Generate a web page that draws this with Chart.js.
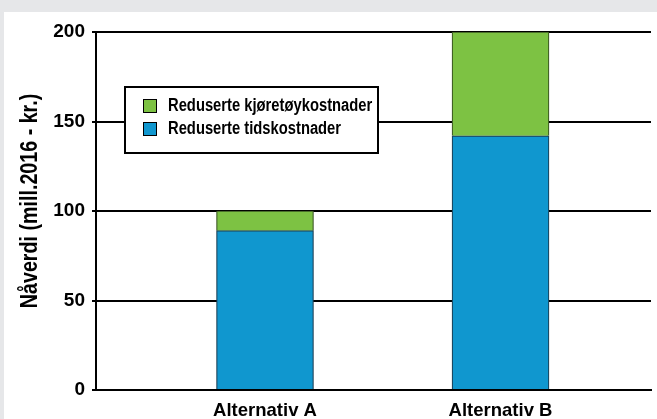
<!DOCTYPE html>
<html>
<head>
<meta charset="utf-8">
<script src="https://cdn.jsdelivr.net/npm/chart.js@4/dist/chart.umd.min.js"></script>
<style>
  html, body { margin: 0; padding: 0; background: #e6e7e9; width: 657px; height: 419px; overflow: hidden; }
  #panel { position: absolute; left: 4px; top: 12px; width: 653px; height: 407px; background: #ffffff; }
  canvas { display: block; }
</style>
</head>
<body>
<div id="panel"><canvas id="c" width="653" height="407"></canvas></div>
<script>
// ---- data ----
const categories = ['Alternativ A', 'Alternativ B'];
const categoryPositions = [1, 2];
const tidskostnader = [89, 142];
const kjoretoykostnader = [11, 58];
const yTicks = [0, 50, 100, 150, 200];
const seriesLabels = ['Reduserte tidskostnader', 'Reduserte kjøretøykostnader'];
const yTitle = 'Nåverdi (mill.2016 - kr.)';

const FONT = '"Liberation Sans", Arial, sans-serif';
const CONDENSE = 0.82;

const BLUE = '#1097cf';
const GREEN = '#7dc243';

const toPoints = (vals) => categoryPositions.map((p, i) => ({ x: p, y: vals[i] }));

const legendPlugin = {
  id: 'boxLegend',
  afterDraw(chart) {
    const ctx = chart.ctx;
    const bx = 121, by = 75, bw = 253, bh = 66;
    ctx.save();
    ctx.fillStyle = '#ffffff';
    ctx.fillRect(bx, by, bw, bh);
    ctx.lineWidth = 2;
    ctx.strokeStyle = '#000000';
    ctx.strokeRect(bx, by, bw, bh);
    const items = chart.data.datasets.slice().reverse();
    items.forEach((ds, i) => {
      const sy = by + 12 + i * 23;
      ctx.fillStyle = ds.backgroundColor;
      ctx.fillRect(bx + 18, sy, 14, 14);
      ctx.lineWidth = 1;
      ctx.strokeStyle = '#000000';
      ctx.strokeRect(bx + 18.5, sy + 0.5, 13, 13);
      ctx.save();
      ctx.translate(bx + 43, sy + 7.5);
      ctx.scale(CONDENSE, 1);
      ctx.font = 'bold 18px ' + FONT;
      ctx.textBaseline = 'middle';
      ctx.textAlign = 'left';
      ctx.fillStyle = '#000000';
      ctx.fillText(ds.label, 0, 0);
      ctx.restore();
    });
    ctx.restore();
  }
};

const yTitlePlugin = {
  id: 'yTitle',
  afterDraw(chart) {
    const ctx = chart.ctx;
    ctx.save();
    ctx.translate(33, 189);
    ctx.rotate(-Math.PI / 2);
    ctx.scale(CONDENSE, 1);
    ctx.font = 'bold 24px ' + FONT;
    ctx.fillStyle = '#000000';
    ctx.textAlign = 'center';
    ctx.textBaseline = 'alphabetic';
    ctx.fillText(yTitle, 0, 0);
    ctx.restore();
  }
};

new Chart(document.getElementById('c'), {
  type: 'bar',
  data: {
    datasets: [
      {
        label: seriesLabels[0],
        data: toPoints(tidskostnader),
        backgroundColor: BLUE,
        borderColor: '#1b3f55',
        borderWidth: 1.2,
        barThickness: 97
      },
      {
        label: seriesLabels[1],
        data: toPoints(kjoretoykostnader),
        backgroundColor: GREEN,
        borderColor: '#3a5522',
        borderWidth: 1.2,
        barThickness: 97
      }
    ]
  },
  options: {
    responsive: false,
    animation: false,
    devicePixelRatio: 1,
    layout: { padding: { top: 20, right: 6, left: 0, bottom: 0 } },
    plugins: { legend: { display: false }, tooltip: { enabled: false } },
    scales: {
      x: {
        type: 'linear',
        stacked: true,
        offset: false,
        min: 0.2824,
        max: 2.639,
        afterBuildTicks(scale) { scale.ticks = categoryPositions.map(v => ({ value: v })); },
        afterFit(scale) { scale.height = 29; },
        grid: { display: false, offset: false },
        border: { display: true, color: '#000000', width: 2 },
        ticks: {
          autoSkip: false,
          maxRotation: 0,
          padding: 2,
          color: '#000000',
          font: { family: FONT, size: 18.5, weight: 'bold' },
          callback(value) {
            const i = categoryPositions.indexOf(value);
            return i >= 0 ? categories[i] : '';
          }
        }
      },
      y: {
        stacked: true,
        min: 0,
        max: 200,
        afterBuildTicks(scale) { scale.ticks = yTicks.map(v => ({ value: v })); },
        afterFit(scale) { scale.width = 92; },
        grid: { color: '#000000', lineWidth: 2, tickLength: 4, drawTicks: true },
        border: { display: true, color: '#000000', width: 2 },
        ticks: {
          padding: 7,
          color: '#000000',
          font: { family: FONT, size: 19, weight: 'bold' }
        }
      }
    }
  },
  plugins: [legendPlugin, yTitlePlugin]
});
</script>
</body>
</html>
